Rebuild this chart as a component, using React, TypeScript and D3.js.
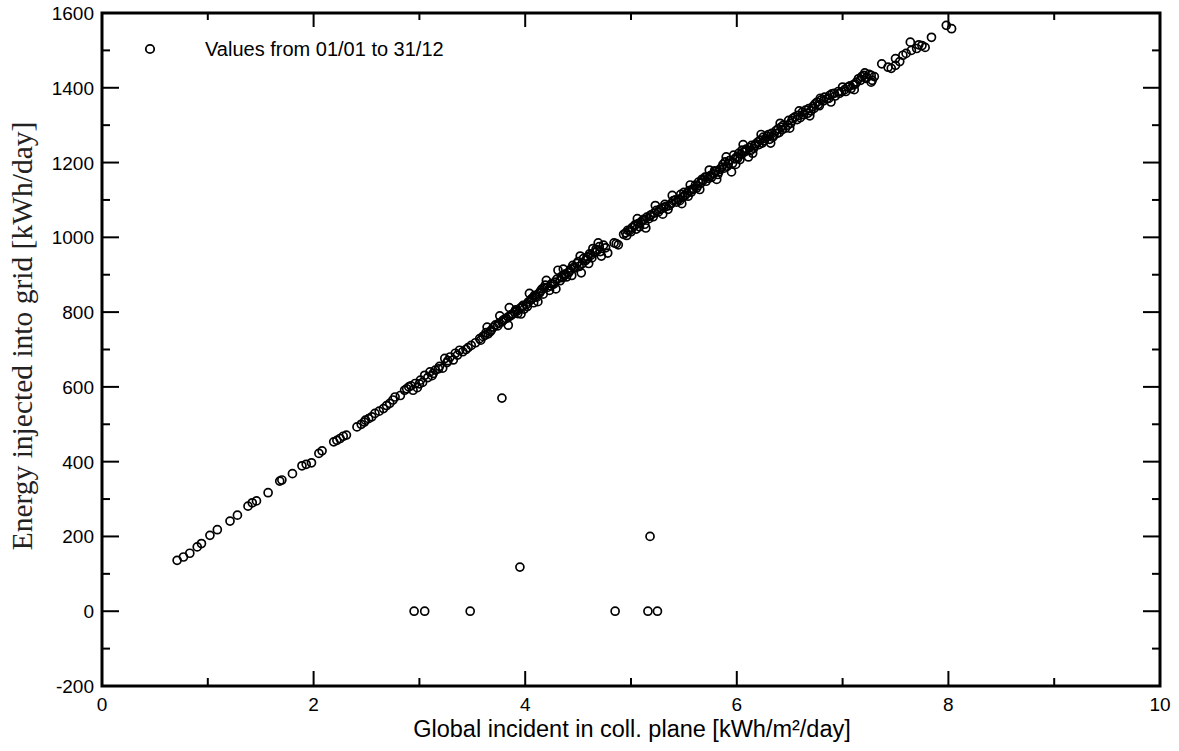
import React from "react";
import * as d3 from "d3";

// [global incident kWh/m²/day, energy injected into grid kWh/day]
const dailyValues: [number, number][] = [
  [0.71,136],[0.77,145],[0.83,155],[0.90,172],[0.94,181],[1.02,203],[1.09,218],[1.21,241],[1.28,257],[1.38,281],
  [1.42,290],[1.46,295],[1.57,317],[1.68,348],[1.70,351],[1.80,368],[1.89,389],[1.93,393],[1.98,397],[2.05,422],
  [2.08,429],
  [2.19,453],[2.22,457],[2.25,462],[2.31,471],[2.41,493],[2.48,506],[2.49,511],[2.52,515],[2.58,529],[2.66,542],
  [2.69,550],[2.72,556],[2.77,573],[2.82,577],[2.86,591],[2.90,600],[2.92,603],[2.94,591],[2.96,609],[2.98,598],
  [3.01,618],[3.03,612],[3.05,631],[3.08,625],[3.10,640],[3.13,636],[3.15,645],[3.19,655],[3.22,650],[3.24,676],
  [3.27,670],[3.29,680],[3.32,672],[3.34,690],[3.38,698],[3.41,694],[3.44,700],[3.49,711],[3.53,718],[3.58,725],
  [2.28,468],[2.45,500],[2.55,520],[2.62,535],[2.75,565],[2.88,595],[3.00,608],[3.12,630],[3.18,648],[3.26,665],
  [3.36,685],[3.46,705],
  [3.57,729],[3.60,735],[3.63,745],[3.65,742],[3.68,752],[3.70,760],[3.72,766],[3.75,770],[3.78,774],[3.80,780],
  [3.82,783],[3.84,787],[3.84,765],[3.86,790],[3.88,795],[3.90,800],[3.91,806],[3.93,796],[3.95,810],[3.97,814],
  [3.99,808],[4.01,820],[4.03,827],[4.05,832],[4.07,838],[4.08,825],[4.09,845],[4.11,840],[4.13,850],[4.14,853],
  [4.16,862],[4.17,848],[4.19,872],[4.21,866],[4.23,858],[4.25,876],[4.28,880],[4.30,888],[4.31,912],[4.33,884],
  [4.35,892],[4.37,898],[4.39,894],[4.41,905],[4.43,915],[4.45,925],[4.47,918],[4.49,930],[4.51,922],[4.53,905],
  [4.55,943],[4.57,938],[4.59,948],[4.61,956],[4.63,945],[4.64,970],[4.66,960],[4.68,965],[4.70,975],[4.72,950],
  [4.74,979],[4.76,972],[4.84,985],[4.86,983],[4.88,980],[4.93,1008],[4.95,1012],[4.97,1019],
  [3.62,738],[3.67,748],[3.74,763],[3.79,778],[3.87,793],[3.92,802],[3.98,818],[4.02,815],[4.06,835],[4.10,842],
  [4.15,858],[4.18,865],[4.24,870],[4.27,875],[4.34,895],[4.38,902],[4.42,910],[4.46,920],[4.50,935],[4.54,930],
  [4.58,942],[4.62,952],[4.67,968],[4.71,962],[4.96,1005],
  [4.99,1019],[5.01,1026],[5.03,1030],[5.05,1022],[5.07,1037],[5.09,1040],[5.11,1045],[5.13,1035],[5.15,1054],[5.17,1050],
  [5.19,1060],[5.22,1065],[5.24,1072],[5.26,1068],[5.29,1077],[5.31,1080],[5.33,1082],[5.35,1075],[5.38,1090],[5.40,1098],
  [5.43,1094],[5.45,1102],[5.47,1115],[5.49,1108],[5.51,1112],[5.53,1118],[5.55,1125],[5.57,1121],[5.59,1130],[5.61,1140],
  [5.62,1132],[5.64,1148],[5.66,1145],[5.68,1152],[5.70,1161],[5.71,1150],[5.73,1158],[5.75,1165],[5.78,1170],[5.80,1176],
  [5.82,1168],[5.84,1182],[5.86,1188],[5.87,1195],[5.89,1202],[5.91,1190],[5.93,1205],[5.95,1175],[5.96,1198],[5.98,1210],
  [6.00,1215],[6.02,1225],[6.03,1208],[6.05,1233],[6.07,1228],[6.09,1236],[6.11,1215],[6.12,1240],[6.14,1246],[6.16,1238],
  [6.18,1250],[6.20,1255],[6.22,1260],[6.24,1252],[6.25,1268],[6.27,1264],[6.29,1270],[6.31,1262],[6.33,1278],[6.35,1273],
  [6.37,1285],[6.39,1290],[6.40,1280],[6.42,1295],[6.44,1300],
  [5.00,1015],[5.04,1034],[5.08,1028],[5.12,1048],[5.18,1058],[5.21,1055],[5.27,1074],[5.32,1088],[5.36,1085],[5.42,1100],
  [5.46,1098],[5.50,1120],[5.54,1110],[5.58,1128],[5.63,1138],[5.67,1155],[5.72,1162],[5.76,1160],[5.79,1178],[5.83,1175],
  [5.88,1185],[5.92,1198],[5.97,1220],[6.01,1212],[6.04,1222],[6.08,1230],[6.13,1232],[6.17,1245],[6.21,1248],[6.26,1258],
  [6.30,1275],[6.34,1268],[6.38,1278],[6.43,1288],
  [6.46,1292],[6.49,1313],[6.51,1305],[6.53,1318],[6.55,1322],[6.58,1326],[6.60,1320],[6.62,1335],[6.65,1340],[6.68,1344],
  [6.70,1338],[6.72,1350],[6.74,1357],[6.76,1362],[6.78,1352],[6.80,1368],[6.83,1375],[6.85,1370],[6.88,1380],[6.90,1384],
  [6.93,1378],[6.96,1390],[6.99,1389],[7.02,1395],[7.05,1402],[7.08,1398],[7.10,1408],[7.13,1415],[7.15,1424],[7.18,1430],
  [7.20,1433],[7.23,1428],[7.25,1436],[7.27,1433],[7.27,1415],[7.30,1430],[7.37,1464],[7.43,1455],[7.46,1452],[7.50,1478],
  [7.50,1460],[7.54,1470],[7.57,1487],[7.60,1492],[7.64,1522],[7.65,1500],[7.70,1505],[7.72,1515],[7.75,1513],[7.78,1508],
  [7.84,1535],[7.98,1567],[8.03,1558],
  [6.48,1300],[6.52,1312],[6.57,1315],[6.63,1328],[6.67,1332],[6.73,1345],[6.77,1355],[6.82,1365],[6.87,1372],[6.92,1385],
  [6.97,1385],[7.03,1390],[7.07,1405],[7.12,1410],[7.17,1420],[7.22,1425],
  // days further from the trend
  [3.64,760],[3.76,790],[3.85,812],[3.96,795],[4.04,850],[4.12,828],[4.20,885],[4.29,862],[4.36,915],[4.44,898],
  [4.52,950],[4.60,930],[4.69,985],[4.78,958],[5.06,1050],[5.14,1025],[5.23,1085],[5.30,1062],[5.39,1112],[5.48,1090],
  [5.56,1140],[5.65,1128],[5.74,1180],[5.81,1155],[5.90,1215],[5.99,1195],[6.06,1248],[6.15,1225],[6.23,1275],[6.32,1252],
  [6.41,1305],[6.50,1292],[6.59,1338],[6.69,1325],[6.79,1372],[6.89,1362],[7.00,1402],[7.11,1395],[7.21,1440],[7.28,1420],
  // outlier days
  [2.95,0],[3.05,0],[3.48,0],[3.78,570],[3.95,118],[4.85,0],[5.16,0],[5.18,200],[5.25,0],
];

const xMajorTicks = [0, 2, 4, 6, 8, 10];
const xMinorTicks = [1, 3, 5, 7, 9];
const yMajorTicks = [-200, 0, 200, 400, 600, 800, 1000, 1200, 1400, 1600];
const yMinorTicks = [-100, 100, 300, 500, 700, 900, 1100, 1300, 1500];

const legendLabel = "Values from 01/01 to 31/12";
const xTitle = "Global incident in coll. plane [kWh/m²/day]";
const yTitle = "Energy injected into grid [kWh/day]";

export default function App() {
  const W = 1179, H = 751;
  const L = 102, R = 1160, T = 13, B = 686;
  const x = d3.scaleLinear().domain([0, 10]).range([L, R]);
  const y = d3.scaleLinear().domain([-200, 1600]).range([B, T]);
  const sans = "'Liberation Sans', Arial, sans-serif";

  return (
    <div style={{ position: "absolute", left: 0, top: 0 }}>
      <svg width={W} height={H} style={{ display: "block", background: "#fff" }}>
        <rect x={0} y={0} width={W} height={H} fill="#fff" />
        {/* points */}
        <g fill="none" stroke="#000" strokeWidth={1.7}>
          {dailyValues.map((d, i) => (
            <circle key={i} cx={x(d[0])} cy={y(d[1])} r={4} />
          ))}
        </g>
        {/* ticks */}
        <g stroke="#000" strokeWidth={2}>
          {xMajorTicks.map((t) => (
            <g key={"xM" + t}>
              <line x1={x(t)} x2={x(t)} y1={B} y2={B - 15} />
              <line x1={x(t)} x2={x(t)} y1={T} y2={T + 14} />
            </g>
          ))}
          {xMinorTicks.map((t) => (
            <g key={"xm" + t}>
              <line x1={x(t)} x2={x(t)} y1={B} y2={B - 8} />
              <line x1={x(t)} x2={x(t)} y1={T} y2={T + 7} />
            </g>
          ))}
          {yMajorTicks.map((t) => (
            <g key={"yM" + t}>
              <line x1={L} x2={L + 17} y1={y(t)} y2={y(t)} />
              <line x1={R} x2={R - 17} y1={y(t)} y2={y(t)} />
            </g>
          ))}
          {yMinorTicks.map((t) => (
            <g key={"ym" + t}>
              <line x1={L} x2={L + 8} y1={y(t)} y2={y(t)} />
              <line x1={R} x2={R - 8} y1={y(t)} y2={y(t)} />
            </g>
          ))}
        </g>
        {/* frame */}
        <rect x={L} y={T} width={R - L} height={B - T} fill="none" stroke="#000" strokeWidth={3} />
        {/* tick labels */}
        <g fontFamily={sans} fontSize={19} fill="#000">
          {xMajorTicks.map((t) => (
            <text key={"xl" + t} x={x(t)} y={711} textAnchor="middle">{t}</text>
          ))}
          {yMajorTicks.map((t) => (
            <text key={"yl" + t} x={94} y={y(t) + 7} textAnchor="end">{t}</text>
          ))}
        </g>
        {/* legend */}
        <circle cx={150} cy={49} r={4.2} fill="none" stroke="#000" strokeWidth={1.8} />
        <text x={205} y={56} fontFamily={sans} fontSize={20} fill="#000">{legendLabel}</text>
        {/* axis titles */}
        <text x={632} y={736.5} textAnchor="middle" fontFamily={sans} fontSize={23.5} fill="#000">{xTitle}</text>
        <text
          transform={`translate(32, 336) rotate(-90)`}
          textAnchor="middle"
          fontFamily="'Liberation Serif', 'Times New Roman', serif"
          fontSize={29.5}
          fill="#222"
        >
          {yTitle}
        </text>
      </svg>
    </div>
  );
}
